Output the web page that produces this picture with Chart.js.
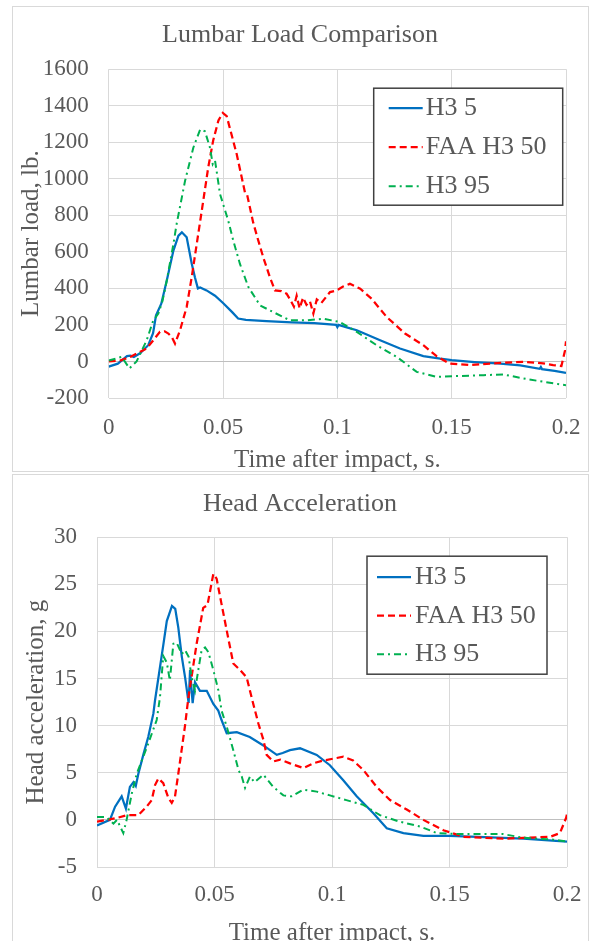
<!DOCTYPE html>
<html>
<head>
<meta charset="utf-8">
<title>Lumbar Load and Head Acceleration</title>
<script src="https://cdn.jsdelivr.net/npm/chart.js@4.4.1/dist/chart.umd.min.js"></script>
<style>
  body { margin: 0; background: #fff; overflow: hidden; }
  .frame { position: absolute; border: 1px solid #d9d9d9; box-sizing: border-box; }
  .holder { position: absolute; left: 0; width: 592px; }
</style>
</head>
<body>
<div class="frame" style="left:12px;top:6px;width:577px;height:466px"></div>
<div class="frame" style="left:12px;top:474px;width:577px;height:480px"></div>
<div class="holder" style="top:0;height:472px"><canvas id="lumbarChart"></canvas></div>
<div class="holder" style="top:472px;height:469px"><canvas id="headChart"></canvas></div>

<script>
// Series names (legend order)
const seriesNames = ['H3 5', 'FAA H3 50', 'H3 95'];

// Tick values
const timeTicks = [0, 0.05, 0.1, 0.15, 0.2];
const lumbarTicks = [-200, 0, 200, 400, 600, 800, 1000, 1200, 1400, 1600];
const headTicks = [-5, 0, 5, 10, 15, 20, 25, 30];

// ---- Lumbar load (lb.) ----
const lumbarT_h3_5 = [0, 0.004, 0.008, 0.0095, 0.011, 0.0137, 0.0173, 0.0194, 0.0207, 0.023, 0.0254, 0.0283, 0.0305, 0.032, 0.0341, 0.0363, 0.0377, 0.039, 0.040, 0.0428, 0.0465, 0.05, 0.054, 0.0566, 0.06, 0.069, 0.08, 0.09, 0.0995, 0.1, 0.1005, 0.1045, 0.1085, 0.1187, 0.1274, 0.1376, 0.145, 0.15, 0.16, 0.17, 0.18, 0.1885, 0.189, 0.1895, 0.195, 0.2];
const lumbarV_h3_5 = [-28, -12, 29, 32, 25, 45, 89, 155, 253, 316, 443, 607, 689, 707, 680, 536, 461, 400, 405, 389, 360, 320, 270, 235, 228, 221, 214, 210, 200, 188, 200, 185, 171, 116, 71, 29, 15, 7, -3, -11, -22, -40, -30, -42, -52, -62];

const lumbarT_faa50 = [0, 0.005, 0.0094, 0.0125, 0.0166, 0.0195, 0.0224, 0.0245, 0.0261, 0.0276, 0.029, 0.0312, 0.0341, 0.0363, 0.0385, 0.041, 0.0435, 0.0457, 0.048, 0.0499, 0.0516, 0.056, 0.0596, 0.0605, 0.0632, 0.065, 0.0676, 0.0705, 0.0727, 0.0755, 0.0778, 0.0793, 0.081, 0.0822, 0.0835, 0.085, 0.0865, 0.088, 0.0895, 0.091, 0.093, 0.0968, 0.0997, 0.1025, 0.1055, 0.11, 0.115, 0.1216, 0.1296, 0.1376, 0.1434, 0.149, 0.158, 0.167, 0.1813, 0.19, 0.1944, 0.198, 0.1996, 0.2];
const lumbarV_faa50 = [0, 5, 25, 45, 71, 116, 162, 165, 153, 134, 98, 171, 298, 461, 643, 850, 1060, 1210, 1320, 1361, 1343, 1134, 925, 915, 760, 680, 570, 461, 389, 385, 371, 340, 300, 360, 290, 350, 310, 330, 262, 340, 320, 380, 389, 410, 425, 398, 343, 243, 153, 89, 29, -11, -20, -11, -2, -10, -20, -25, 62, 110];

const lumbarT_h3_95 = [0, 0.0057, 0.0086, 0.0091, 0.0105, 0.0122, 0.0166, 0.0195, 0.0217, 0.0235, 0.0254, 0.0283, 0.0297, 0.0334, 0.037, 0.04, 0.0421, 0.0443, 0.0455, 0.0465, 0.0487, 0.0523, 0.0545, 0.0574, 0.0611, 0.0662, 0.072, 0.0793, 0.0866, 0.0939, 0.1011, 0.1085, 0.1172, 0.126, 0.1347, 0.1434, 0.1522, 0.164, 0.1726, 0.1813, 0.19, 0.2];
const lumbarV_h3_95 = [5, 25, -29, -38, -20, 0, 116, 225, 262, 330, 443, 643, 752, 989, 1170, 1270, 1260, 1170, 1080, 1100, 916, 770, 661, 534, 407, 307, 270, 225, 225, 234, 216, 162, 89, 25, -57, -84, -80, -75, -71, -93, -111, -130];

// ---- Head acceleration (g) ----
const headT_h3_5 = [0, 0.0055, 0.0077, 0.0105, 0.0123, 0.014, 0.0155, 0.0165, 0.0176, 0.0197, 0.0218, 0.024, 0.0247, 0.0283, 0.0297, 0.0319, 0.0333, 0.0346, 0.0361, 0.0375, 0.039, 0.0396, 0.0407, 0.0417, 0.0438, 0.0467, 0.0495, 0.0516, 0.053, 0.0552, 0.0595, 0.065, 0.0708, 0.0765, 0.079, 0.0821, 0.0864, 0.0935, 0.0991, 0.1048, 0.1105, 0.1176, 0.1233, 0.1304, 0.1389, 0.15, 0.162, 0.1814, 0.2];
const headV_h3_5 = [-0.6, 0, 1.4, 2.5, 1.2, 3.5, 4.0, 3.6, 4.9, 6.9, 8.8, 11.3, 12.7, 18.7, 21.1, 22.7, 22.4, 20.4, 17.3, 15.1, 12.4, 15.9, 12.4, 14.6, 13.7, 13.7, 12.3, 11.6, 10.6, 9.2, 9.3, 8.8, 7.9, 6.9, 7.1, 7.4, 7.6, 6.9, 5.8, 4.2, 2.5, 0.7, -0.9, -1.4, -1.7, -1.7, -1.8, -2.0, -2.3];

const headT_faa50 = [0, 0.004, 0.0084, 0.0126, 0.0176, 0.0211, 0.0233, 0.0247, 0.0261, 0.0282, 0.0304, 0.0318, 0.0332, 0.0346, 0.036, 0.0374, 0.0389, 0.0424, 0.0452, 0.047, 0.0495, 0.0509, 0.053, 0.0552, 0.058, 0.0609, 0.0637, 0.0665, 0.0687, 0.0708, 0.0722, 0.075, 0.078, 0.0821, 0.0878, 0.092, 0.0963, 0.1048, 0.109, 0.1133, 0.119, 0.1247, 0.1318, 0.1389, 0.1474, 0.1559, 0.173, 0.1814, 0.1928, 0.197, 0.1996, 0.2];
const headV_faa50 = [-0.2, 0, 0.2, 0.5, 0.5, 1.4, 2.1, 3.7, 4.4, 3.9, 2.3, 1.8, 2.5, 4.9, 7.4, 9.9, 13.0, 18.7, 22.5, 22.8, 26.1, 25.6, 22.9, 20.1, 16.6, 15.9, 15.1, 12.3, 10.2, 8.5, 6.9, 6.2, 6.4, 6.0, 5.5, 6.0, 6.3, 6.7, 6.3, 5.3, 3.5, 2.1, 1.1, 0, -1.1, -1.8, -2.0, -1.9, -1.8, -1.4, 0.2, 0.6];

const headT_h3_95 = [0, 0.004, 0.007, 0.0085, 0.0112, 0.0126, 0.0148, 0.0169, 0.0197, 0.0218, 0.0254, 0.0268, 0.0282, 0.0297, 0.031, 0.0325, 0.0339, 0.0361, 0.0375, 0.039, 0.0403, 0.0417, 0.0431, 0.0445, 0.046, 0.0474, 0.0495, 0.0517, 0.053, 0.0552, 0.058, 0.0602, 0.0616, 0.063, 0.0651, 0.067, 0.0708, 0.075, 0.0793, 0.0829, 0.0878, 0.0935, 0.0991, 0.1061, 0.1133, 0.1204, 0.1289, 0.1374, 0.1446, 0.153, 0.1727, 0.1814, 0.1942, 0.2];
const headV_h3_95 = [0.3, 0.3, -0.4, 0, -1.4, 0, 2.8, 4.9, 6.7, 8.1, 10.6, 13.0, 17.4, 16.7, 14.8, 18.7, 18.8, 17.6, 18.0, 17.3, 15.1, 13.7, 15.9, 18.0, 18.3, 17.8, 15.9, 13.7, 11.6, 9.9, 7.4, 5.3, 4.6, 3.4, 4.6, 4.0, 4.8, 3.5, 2.6, 2.5, 3.2, 3.0, 2.6, 2.1, 1.6, 0.5, -0.2, -0.7, -1.4, -1.5, -1.5, -1.9, -2.1, -2.3];

const FONT = "'Liberation Serif', 'Times New Roman', serif";
const TEXT = '#595959';

// line looks, same order as seriesNames
const seriesStyle = [
    { color: '#0070C0', dash: [], width: 2.25, order: 2 },
    { color: '#FF0000', dash: [7, 4], width: 2.25, order: 1 },
    { color: '#00B050', dash: [7, 4, 2, 4], width: 2, order: 0 }
];

function toPoints(t, v) {
    return t.map((x, i) => ({ x: x, y: v[i] }));
}

function buildDatasets(pairs) {
    return pairs.map((p, i) => ({
        label: seriesNames[i],
        data: toPoints(p[0], p[1]),
        borderColor: seriesStyle[i].color,
        borderDash: seriesStyle[i].dash,
        borderWidth: seriesStyle[i].width,
        order: seriesStyle[i].order,
        pointRadius: 0,
        tension: 0,
        fill: false
    }));
}

// Legend box drawn inside the plot area, like the Excel one
const insideLegend = {
    id: 'insideLegend',
    afterDraw(chart, args, opts) {
        const ctx = chart.ctx;
        const area = chart.chartArea;
        const x = area.left + opts.left;
        const y = area.top + opts.top;
        ctx.save();
        ctx.fillStyle = '#ffffff';
        ctx.fillRect(x, y, opts.width, opts.height);
        ctx.strokeStyle = '#404040';
        ctx.lineWidth = 1.5;
        ctx.strokeRect(x, y, opts.width, opts.height);
        ctx.font = '26px ' + FONT;
        ctx.textBaseline = 'middle';
        ctx.textAlign = 'left';
        chart.data.datasets.forEach((ds, i) => {
            const cy = y + opts.firstRow + i * opts.rowGap;
            ctx.beginPath();
            ctx.setLineDash(ds.borderDash);
            ctx.strokeStyle = ds.borderColor;
            ctx.lineWidth = ds.borderWidth;
            ctx.moveTo(x + opts.lineStart, cy);
            ctx.lineTo(x + opts.lineEnd, cy);
            ctx.stroke();
            ctx.setLineDash([]);
            ctx.fillStyle = TEXT;
            ctx.fillText(ds.label, x + opts.textStart, cy);
        });
        ctx.restore();
    }
};

function makeChart(canvasId, cfg) {
    return new Chart(document.getElementById(canvasId), {
        type: 'line',
        data: { datasets: cfg.datasets },
        options: {
            responsive: true,
            maintainAspectRatio: false,
            animation: false,
            events: [],
            layout: { padding: { left: cfg.leftPad, right: 0, top: 0, bottom: 0 } },
            plugins: {
                legend: { display: false },
                tooltip: { enabled: false },
                title: {
                    display: true,
                    text: cfg.title,
                    color: TEXT,
                    font: { family: FONT, size: 26, weight: 'normal', lineHeight: 1.2 },
                    padding: cfg.titlePad
                },
                insideLegend: cfg.legend
            },
            scales: {
                x: {
                    type: 'linear',
                    min: timeTicks[0],
                    max: timeTicks[timeTicks.length - 1],
                    afterBuildTicks: s => { s.ticks = timeTicks.map(v => ({ value: v })); },
                    afterFit: s => {
                        s.height = cfg.xHeight;
                        s.paddingRight = cfg.rightPad;   // room right of the plot, like Excel
                    },
                    grid: { color: '#d9d9d9', lineWidth: 1, drawTicks: false },
                    border: { display: false },
                    ticks: {
                        color: TEXT,
                        padding: cfg.xTickPad,
                        maxRotation: 0,
                        font: { family: FONT, size: 23 },
                        callback: v => String(+v.toFixed(2))
                    },
                    title: {
                        display: true,
                        text: 'Time after impact, s.',
                        color: TEXT,
                        font: { family: FONT, size: 25, lineHeight: 1 },
                        padding: { top: 0, bottom: cfg.xTitlePad }
                    }
                },
                y: {
                    min: cfg.yTicks[0],
                    max: cfg.yTicks[cfg.yTicks.length - 1],
                    afterBuildTicks: s => { s.ticks = cfg.yTicks.map(v => ({ value: v })); },
                    afterFit: s => { s.width = cfg.yWidth; },
                    grid: {
                        color: c => (c.tick && c.tick.value === 0 ? '#bfbfbf' : '#d9d9d9'),
                        lineWidth: 1,
                        drawTicks: false
                    },
                    border: { display: false },
                    ticks: {
                        color: TEXT,
                        padding: cfg.yTickPad,
                        font: { family: FONT, size: 23 },
                        callback: v => String(v)
                    },
                    title: {
                        display: true,
                        text: cfg.yTitle,
                        color: TEXT,
                        font: { family: FONT, size: 25, lineHeight: 1 },
                        padding: { top: cfg.yTitlePad, bottom: 0 }
                    }
                }
            }
        },
        plugins: [insideLegend]
    });
}

makeChart('lumbarChart', {
    title: 'Lumbar Load Comparison',
    yTitle: 'Lumbar load, lb.',
    yTicks: lumbarTicks,
    datasets: buildDatasets([
        [lumbarT_h3_5, lumbarV_h3_5],
        [lumbarT_faa50, lumbarV_faa50],
        [lumbarT_h3_95, lumbarV_h3_95]
    ]),
    leftPad: 8,
    rightPad: 26,
    titlePad: { top: 20, bottom: 18 },
    xHeight: 74,
    xTickPad: 16,
    xTitlePad: -1,
    yWidth: 100.7,
    yTickPad: 20,
    yTitlePad: 11,
    legend: { left: 265, top: 19, width: 189, height: 117, lineStart: 15, lineEnd: 49, textStart: 52, firstRow: 20, rowGap: 39 }
});

makeChart('headChart', {
    title: 'Head Acceleration',
    yTitle: 'Head acceleration, g',
    yTicks: headTicks,
    datasets: buildDatasets([
        [headT_h3_5, headV_h3_5],
        [headT_faa50, headV_faa50],
        [headT_h3_95, headV_h3_95]
    ]),
    leftPad: 8,
    rightPad: 25,
    titlePad: { top: 17, bottom: 17 },
    xHeight: 74,
    xTickPad: 14,
    xTitlePad: -5,
    yWidth: 89,
    yTickPad: 20,
    yTitlePad: 16,
    legend: { left: 270, top: 19, width: 180, height: 118, lineStart: 10, lineEnd: 44, textStart: 48, firstRow: 21, rowGap: 38.5 }
});
</script>
</body>
</html>
